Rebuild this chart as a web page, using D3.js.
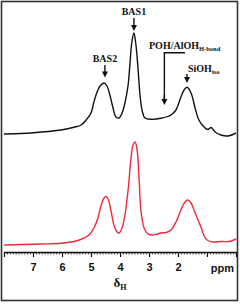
<!DOCTYPE html>
<html>
<head>
<meta charset="utf-8">
<script src="https://cdn.jsdelivr.net/npm/d3@7"></script>
<style>
  body { margin: 0; background: #fff; }
</style>
</head>
<body>
<div id="container"></div>
<script>
/* DATA */
const ppmBlack = [8.0, 7.41, 6.97, 6.48, 6.03, 5.59, 5.34, 5.14, 5.0, 4.90, 4.79, 4.69, 4.55, 4.45, 4.34, 4.24, 4.14, 4.03, 3.93, 3.83, 3.72, 3.66, 3.59, 3.52, 3.45, 3.38, 3.31, 3.24, 3.14, 2.93, 2.59, 2.24, 2.07, 1.90, 1.79, 1.69, 1.55, 1.41, 1.28, 1.10, 0.97, 0.86, 0.72, 0.52, 0.28, 0.0];
const intBlack = [0, 0.5, 1.3, 2.5, 4, 6.7, 9, 15, 21, 32, 42, 48, 51, 48, 38, 26, 17, 16, 21, 31, 49, 69, 92, 101, 89, 66, 39, 24, 16, 14.7, 15.7, 19, 24, 37, 44, 46.7, 41, 26, 14, 7, 4.5, 6.5, 2, -1, -2, 1];

const ppmRed = [8.0, 7.41, 6.72, 6.03, 5.52, 5.28, 5.07, 4.90, 4.76, 4.66, 4.55, 4.48, 4.41, 4.31, 4.21, 4.10, 4.03, 3.93, 3.83, 3.72, 3.62, 3.55, 3.48, 3.41, 3.34, 3.28, 3.17, 3.07, 2.93, 2.76, 2.59, 2.41, 2.24, 2.07, 1.90, 1.76, 1.66, 1.55, 1.41, 1.28, 1.17, 1.10, 1.00, 0.79, 0.52, 0.24, 0.0];
const intRed = [0, 0.5, 1, 1.7, 4, 6.5, 10, 17, 27, 39, 47, 48.5, 46, 34, 20, 13, 12, 17, 30, 55, 87, 100, 103, 95, 65, 35, 17, 12, 10, 10.5, 12, 12.5, 15, 23, 35, 43, 45, 42, 32, 23, 15, 9, 5, 3, 3.5, 3.5, 6];

const blackOffset = 111;

const majorTicks = [0, 1, 2, 3, 4, 5, 6, 7, 8];
const tickLabels = {7: "7", 6: "6", 5: "5", 4: "4", 3: "3", 2: "2"};

// annotations: label, subscript, ppm of the arrow
const annoText = ["BAS1", "BAS2", "SiOH"];
const annoSub = ["", "", "iso"];
const annoPpm = [3.52, 4.52, 1.69];
const bracketText = "POH/AlOH";
const bracketSub = "H-bond";
const bracketPpm = [2.47, 1.76];

/* CONSTANTS */
const width = 240, height = 304;

const svg = d3.select("#container")
  .append("svg")
  .attr("width", width)
  .attr("height", height)
  .style("display", "block");

svg.append("rect")
  .attr("x", 1.5).attr("y", 1.5)
  .attr("width", 236).attr("height", 299)
  .attr("fill", "#fff")
  .attr("stroke", "#333")
  .attr("stroke-width", 1.6);

// SCALES
const xScale = d3.scaleLinear().domain([8, 0]).range([4, 236]);
const yScale = d3.scaleLinear().domain([0, 240]).range([245, 5]);

// AXIS
const axisY = 252;
svg.append("g")
  .attr("transform", `translate(0,${axisY})`)
  .call(d3.axisBottom(xScale)
    .tickValues(d3.range(1, 80).map(d => d / 10))
    .tickSize(2.5).tickSizeOuter(0).tickFormat(""))
  .call(g => g.select(".domain").remove())
  .call(g => g.selectAll("line").attr("stroke", "#111").attr("stroke-width", 0.8));

const xAxis = svg.append("g")
  .attr("transform", `translate(0,${axisY})`)
  .call(d3.axisBottom(xScale)
    .tickValues(majorTicks)
    .tickSize(5).tickSizeOuter(0).tickPadding(6)
    .tickFormat(d => tickLabels[d] || ""));
xAxis.select(".domain").attr("stroke", "#111").attr("stroke-width", 1.6);
xAxis.selectAll("line").attr("stroke", "#111").attr("stroke-width", 1.2);
xAxis.selectAll("text")
  .attr("fill", "#111")
  .style("font-family", "'Liberation Sans', Arial, sans-serif")
  .style("font-weight", "bold")
  .style("font-size", "11px");

svg.append("text")
  .attr("x", 234).attr("y", 272)
  .attr("text-anchor", "end")
  .attr("fill", "#111")
  .style("font-family", "'Liberation Sans', Arial, sans-serif")
  .style("font-weight", "bold")
  .style("font-size", "11px")
  .text("ppm");

const xl = svg.append("text")
  .attr("x", 120).attr("y", 287)
  .attr("text-anchor", "middle")
  .attr("fill", "#111")
  .style("font-family", "'Liberation Serif', 'Times New Roman', serif")
  .style("font-weight", "bold")
  .style("font-size", "13px");
xl.append("tspan").text("δ");
xl.append("tspan").attr("dy", 3).style("font-size", "8px").text("H");

// LINES
const line = off => d3.line()
  .x(d => xScale(d[0]))
  .y(d => yScale(d[1] + off))
  .curve(d3.curveCatmullRom.alpha(0.5));

svg.append("path")
  .datum(d3.zip(ppmRed, intRed))
  .attr("fill", "none")
  .attr("stroke", "#f2283e")
  .attr("stroke-width", 1.4)
  .attr("d", line(0));

svg.append("path")
  .datum(d3.zip(ppmBlack, intBlack))
  .attr("fill", "none")
  .attr("stroke", "#111")
  .attr("stroke-width", 1.4)
  .attr("d", line(blackOffset));

// ANNOTATIONS
const serif = "'Liberation Serif', 'Times New Roman', serif";
function arrow(x, y1, y2) {
  svg.append("line")
    .attr("x1", x).attr("x2", x)
    .attr("y1", y1).attr("y2", y2 - 4)
    .attr("stroke", "#111").attr("stroke-width", 1.4);
  svg.append("path")
    .attr("d", `M${x - 3},${y2 - 6}L${x + 3},${y2 - 6}L${x},${y2}Z`)
    .attr("fill", "#111");
}
function label(x, y, txt, sub, anchor) {
  const t = svg.append("text")
    .attr("x", x).attr("y", y)
    .attr("text-anchor", anchor)
    .attr("fill", "#111")
    .style("font-family", serif)
    .style("font-weight", "bold")
    .style("font-size", "10px");
  t.append("tspan").text(txt);
  if (sub) t.append("tspan").attr("dy", 2).style("font-size", "6.5px").text(sub);
}

const annoY = [[15, 18, 31], [61.5, 65, 77.5], [71.5, 74, 83]];
annoText.forEach((txt, i) => {
  const x = xScale(annoPpm[i]);
  label(i === 2 ? x + 1 : x, annoY[i][0], txt, annoSub[i], i === 2 ? "start" : "middle");
  arrow(x, annoY[i][1], annoY[i][2]);
});

label(149, 48.5, bracketText, bracketSub, "start");
const bx0 = xScale(bracketPpm[0]), bx1 = xScale(bracketPpm[1]);
svg.append("path")
  .attr("d", `M${bx1},52.7H${bx0}V101`)
  .attr("fill", "none")
  .attr("stroke", "#111").attr("stroke-width", 1.4);
arrow(bx0, 95, 105);
</script>
</body>
</html>
